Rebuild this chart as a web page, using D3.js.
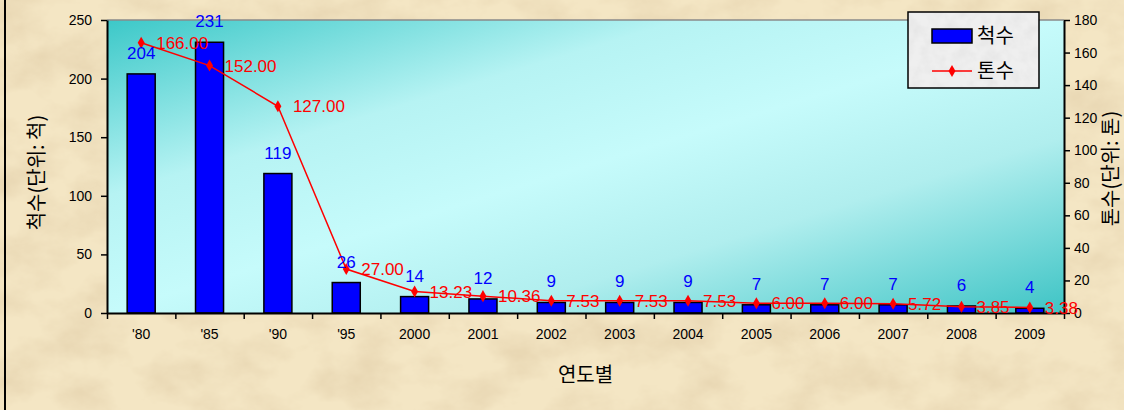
<!DOCTYPE html>
<html>
<head>
<meta charset="utf-8">
<script src="https://cdn.jsdelivr.net/npm/d3@7"></script>
<style>
    body { margin: 0; overflow: hidden; }
    svg { display: block; }
    text { font-family: "Liberation Sans", Arial, sans-serif; }
    .kr { font-family: "Noto Sans CJK KR", "Liberation Sans", sans-serif; }
</style>
</head>
<body>
<div id="chart"></div>
<script>
// --- chart data ---
const categories = ["'80", "'85", "'90", "'95", "2000", "2001", "2002", "2003", "2004", "2005", "2006", "2007", "2008", "2009"];
const shipCounts = [204, 231, 119, 26, 14, 12, 9, 9, 9, 7, 7, 7, 6, 4];
const tonnage = [166.00, 152.00, 127.00, 27.00, 13.23, 10.36, 7.53, 7.53, 7.53, 6.00, 6.00, 5.72, 3.85, 3.38];
const leftTicks = [0, 50, 100, 150, 200, 250];
const rightTicks = [0, 20, 40, 60, 80, 100, 120, 140, 160, 180];

const W = 1124, H = 410;
const margin = { top: 20, right: 60, bottom: 97, left: 107 };
const plotW = W - margin.left - margin.right;
const plotH = H - margin.top - margin.bottom;

const svg = d3.select("#chart").append("svg")
    .attr("width", W)
    .attr("height", H);

const defs = svg.append("defs");

// parchment texture
const paper = defs.append("filter").attr("id", "paper")
    .attr("x", 0).attr("y", 0).attr("width", 1).attr("height", 1);
paper.append("feTurbulence")
    .attr("type", "fractalNoise")
    .attr("baseFrequency", "0.018 0.025")
    .attr("numOctaves", 5)
    .attr("seed", 11)
    .attr("result", "noise");
paper.append("feColorMatrix")
    .attr("in", "noise")
    .attr("type", "matrix")
    .attr("values", "0 0 0 0 0.76  0 0 0 0 0.62  0 0 0 0 0.40  1.3 0 0 0 -0.5");

const grey = defs.append("filter").attr("id", "grey")
    .attr("x", 0).attr("y", 0).attr("width", 1).attr("height", 1);
grey.append("feTurbulence")
    .attr("type", "fractalNoise")
    .attr("baseFrequency", "0.08")
    .attr("numOctaves", 3)
    .attr("seed", 3);
grey.append("feColorMatrix")
    .attr("type", "matrix")
    .attr("values", "0 0 0 0 0.7  0 0 0 0 0.7  0 0 0 0 0.7  0.8 0 0 0 -0.3");

// plot area gradient
const grad = defs.append("linearGradient").attr("id", "plotBg")
    .attr("x1", 0).attr("y1", 0).attr("x2", 1).attr("y2", 1);
grad.append("stop").attr("offset", 0).attr("stop-color", "#3cc8c8");
grad.append("stop").attr("offset", 0.3).attr("stop-color", "#b6f3f3");
grad.append("stop").attr("offset", 0.5).attr("stop-color", "#c6fbfb");
grad.append("stop").attr("offset", 0.7).attr("stop-color", "#b0eeee");
grad.append("stop").attr("offset", 1).attr("stop-color", "#3ec4c5");

// background
svg.append("rect").attr("width", W).attr("height", H).attr("fill", "#f4e6c4");
svg.append("rect").attr("width", W).attr("height", H).attr("filter", "url(#paper)");
svg.append("line")
    .attr("x1", 5).attr("x2", 5).attr("y1", 0).attr("y2", H)
    .attr("stroke", "#000").attr("stroke-width", 2);

const g = svg.append("g").attr("transform", `translate(${margin.left},${margin.top})`);

g.append("rect")
    .attr("width", plotW).attr("height", plotH)
    .attr("fill", "url(#plotBg)");
g.append("line")
    .attr("x1", 0).attr("x2", plotW).attr("y1", 0).attr("y2", 0)
    .attr("stroke", "#8a8a8a").attr("stroke-width", 1.5);

// scales
const x = d3.scaleBand()
    .domain(categories)
    .range([0, plotW])
    .paddingInner(0.59)
    .paddingOuter(0.295);

const xEdge = d3.scaleLinear()
    .domain([0, categories.length])
    .range([0, plotW]);

const yLeft = d3.scaleLinear().domain([0, 250]).range([plotH, 0]);
const yRight = d3.scaleLinear().domain([0, 180]).range([plotH, 0]);

// bars
g.selectAll(".bar")
    .data(categories)
    .enter().append("rect")
    .attr("class", "bar")
    .attr("x", d => x(d))
    .attr("y", (d, i) => yLeft(shipCounts[i]))
    .attr("width", x.bandwidth())
    .attr("height", (d, i) => plotH - yLeft(shipCounts[i]))
    .attr("fill", "#0000ff")
    .attr("stroke", "#000")
    .attr("stroke-width", 1.5);

// axes
const axisBottomTicks = g.append("g")
    .attr("transform", `translate(0,${plotH})`)
    .call(d3.axisBottom(xEdge).tickValues(d3.range(0, categories.length + 1)).tickFormat("").tickSize(6).tickSizeOuter(0));

const axisBottomLabels = g.append("g")
    .attr("transform", `translate(0,${plotH})`)
    .call(d3.axisBottom(x).tickSize(0).tickPadding(16));
axisBottomLabels.select(".domain").remove();

const axisL = g.append("g")
    .call(d3.axisLeft(yLeft).tickValues(leftTicks).tickSize(6).tickSizeOuter(0).tickPadding(9));

const axisR = g.append("g")
    .attr("transform", `translate(${plotW},0)`)
    .call(d3.axisRight(yRight).tickValues(rightTicks).tickSize(6).tickSizeOuter(0).tickPadding(4));

[axisBottomTicks, axisBottomLabels, axisL, axisR].forEach(a => {
    a.selectAll(".domain").attr("stroke", "#000").attr("stroke-width", 2);
    a.selectAll(".tick line").attr("stroke", "#000").attr("stroke-width", 1.5);
    a.selectAll("text").attr("font-size", 14).attr("fill", "#000")
        .attr("font-family", "'Liberation Sans', Arial, sans-serif");
});

// tonnage line
const cx = i => x(categories[i]) + x.bandwidth() / 2;

const line = d3.line()
    .x((d, i) => cx(i))
    .y(d => yRight(d));

g.append("path")
    .datum(tonnage)
    .attr("fill", "none")
    .attr("stroke", "#ff0000")
    .attr("stroke-width", 1.5)
    .attr("d", line);

g.selectAll(".marker")
    .data(tonnage)
    .enter().append("path")
    .attr("class", "marker")
    .attr("transform", (d, i) => `translate(${cx(i)},${yRight(d)})`)
    .attr("d", d3.symbol(d3.symbolDiamond, 42))
    .attr("fill", "#ff0000");

// data labels
g.selectAll(".count-label")
    .data(shipCounts)
    .enter().append("text")
    .attr("class", "count-label")
    .attr("x", (d, i) => cx(i))
    .attr("y", d => yLeft(d) - 15)
    .attr("text-anchor", "middle")
    .attr("font-size", 17)
    .attr("fill", "#0000ff")
    .text(d => d);

g.selectAll(".ton-label")
    .data(tonnage)
    .enter().append("text")
    .attr("class", "ton-label")
    .attr("x", (d, i) => cx(i) + 15)
    .attr("y", d => yRight(d))
    .attr("dy", "0.36em")
    .attr("font-size", 17)
    .attr("fill", "#ff0000")
    .text(d => d.toFixed(2));

// axis titles
svg.append("text")
    .attr("class", "kr")
    .attr("transform", `translate(44,${margin.top + plotH / 2 + 6}) rotate(-90)`)
    .attr("text-anchor", "middle")
    .attr("font-size", 20)
    .attr("fill", "#000")
    .text("척수(단위: 척)");

svg.append("text")
    .attr("class", "kr")
    .attr("transform", `translate(1118,${margin.top + plotH / 2 + 2}) rotate(-90)`)
    .attr("text-anchor", "middle")
    .attr("font-size", 20)
    .attr("fill", "#000")
    .text("톤수(단위: 톤)");

svg.append("text")
    .attr("class", "kr")
    .attr("x", margin.left + plotW / 2 + 0)
    .attr("y", 382)
    .attr("text-anchor", "middle")
    .attr("font-size", 20)
    .attr("fill", "#000")
    .text("연도별");

// legend
const legend = svg.append("g").attr("transform", "translate(908,12)");
legend.append("rect")
    .attr("width", 131).attr("height", 76)
    .attr("fill", "#efefef");
legend.append("rect")
    .attr("width", 131).attr("height", 76)
    .attr("filter", "url(#grey)");
legend.append("rect")
    .attr("width", 131).attr("height", 76)
    .attr("fill", "none")
    .attr("stroke", "#000")
    .attr("stroke-width", 1.5);

legend.append("rect")
    .attr("x", 24).attr("y", 17).attr("width", 40).attr("height", 14)
    .attr("fill", "#0000ff").attr("stroke", "#000").attr("stroke-width", 1.5);
legend.append("text")
    .attr("class", "kr")
    .attr("x", 69).attr("y", 24).attr("dy", "0.36em")
    .attr("font-size", 20).attr("fill", "#000")
    .text("척수");

legend.append("line")
    .attr("x1", 24).attr("x2", 64).attr("y1", 59).attr("y2", 59)
    .attr("stroke", "#ff0000").attr("stroke-width", 1.5);
legend.append("path")
    .attr("transform", "translate(44,59)")
    .attr("d", d3.symbol(d3.symbolDiamond, 42))
    .attr("fill", "#ff0000");
legend.append("text")
    .attr("class", "kr")
    .attr("x", 69).attr("y", 59).attr("dy", "0.36em")
    .attr("font-size", 20).attr("fill", "#000")
    .text("톤수");
</script>
</body>
</html>
